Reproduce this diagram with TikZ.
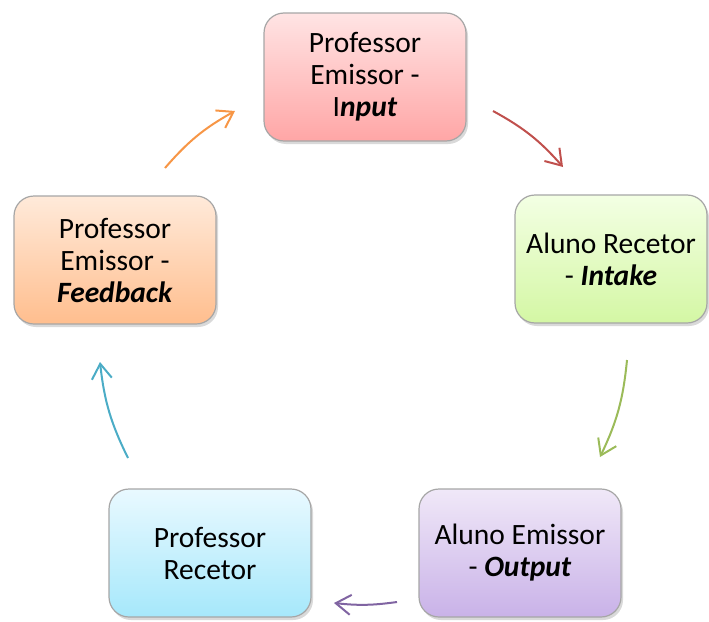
\documentclass[tikz,border=0pt]{standalone}
\usepackage{fontspec}
\setmainfont{Carlito}
\usetikzlibrary{arrows.meta,shadows}

\definecolor{inputtop}{RGB}{255,228,228}
\definecolor{inputbot}{RGB}{255,166,166}
\definecolor{intaketop}{RGB}{243,255,228}
\definecolor{intakebot}{RGB}{212,247,164}
\definecolor{outputtop}{RGB}{240,232,248}
\definecolor{outputbot}{RGB}{201,178,232}
\definecolor{recetortop}{RGB}{233,249,255}
\definecolor{recetorbot}{RGB}{166,232,251}
\definecolor{feedbacktop}{RGB}{255,234,218}
\definecolor{feedbackbot}{RGB}{255,190,142}
\definecolor{redline}{RGB}{192,80,77}
\definecolor{greenline}{RGB}{155,187,89}
\definecolor{purpleline}{RGB}{128,100,162}
\definecolor{tealline}{RGB}{75,172,198}
\definecolor{orangeline}{RGB}{247,150,70}

\begin{document}
\begin{tikzpicture}[x=1pt,y=-1pt,
		box/.style={draw=black!35, line width=1.2pt, rounded corners=20pt,
			minimum width=202pt, minimum height=128pt, align=center,
			font=\fontsize{29.5}{32}\selectfont,
			drop shadow={opacity=.3, shadow xshift=2pt, shadow yshift=-3pt}},
		flow/.style={line width=2pt, -{Straight Barb[length=15pt,width=20pt]}, bend left=10}]
		\useasboundingbox (0,0) rectangle (709,621);

		\node[box, top color=inputtop, bottom color=inputbot] (input) at (365,77)
			{Professor\\Emissor -\\I\textbf{\textit{nput}}};
		\node[box, minimum width=192pt, top color=intaketop, bottom color=intakebot] (intake) at (611,259)
			{Aluno Recetor\\- \textbf{\textit{Intake}}};
		\node[box, top color=outputtop, bottom color=outputbot] (output) at (520,553)
			{Aluno Emissor\\- \textbf{\textit{Output}}};
		\node[box, top color=recetortop, bottom color=recetorbot] (recetor) at (210,553)
			{Professor\\Recetor};
		\node[box, top color=feedbacktop, bottom color=feedbackbot] (feedback) at (115,260)
			{Professor\\Emissor -\\\textbf{\textit{Feedback}}};

		% ends of the arrows
		\coordinate (a1) at (493,111);
		\coordinate (a2) at (563,167);
		\coordinate (b1) at (627,360);
		\coordinate (b2) at (600,457);
		\coordinate (c1) at (397,602);
		\coordinate (c2) at (334,603);
		\coordinate (d1) at (128,458);
		\coordinate (d2) at (100,362);
		\coordinate (e1) at (165,168);
		\coordinate (e2) at (235,111);

		\draw[flow, redline] (a1) to (a2);
		\draw[flow, greenline] (b1) to (b2);
		\draw[flow, purpleline, bend left=7] (c1) to (c2);
		\draw[flow, tealline] (d1) to (d2);
		\draw[flow, orangeline] (e1) to (e2);
	\end{tikzpicture}
\end{document}
